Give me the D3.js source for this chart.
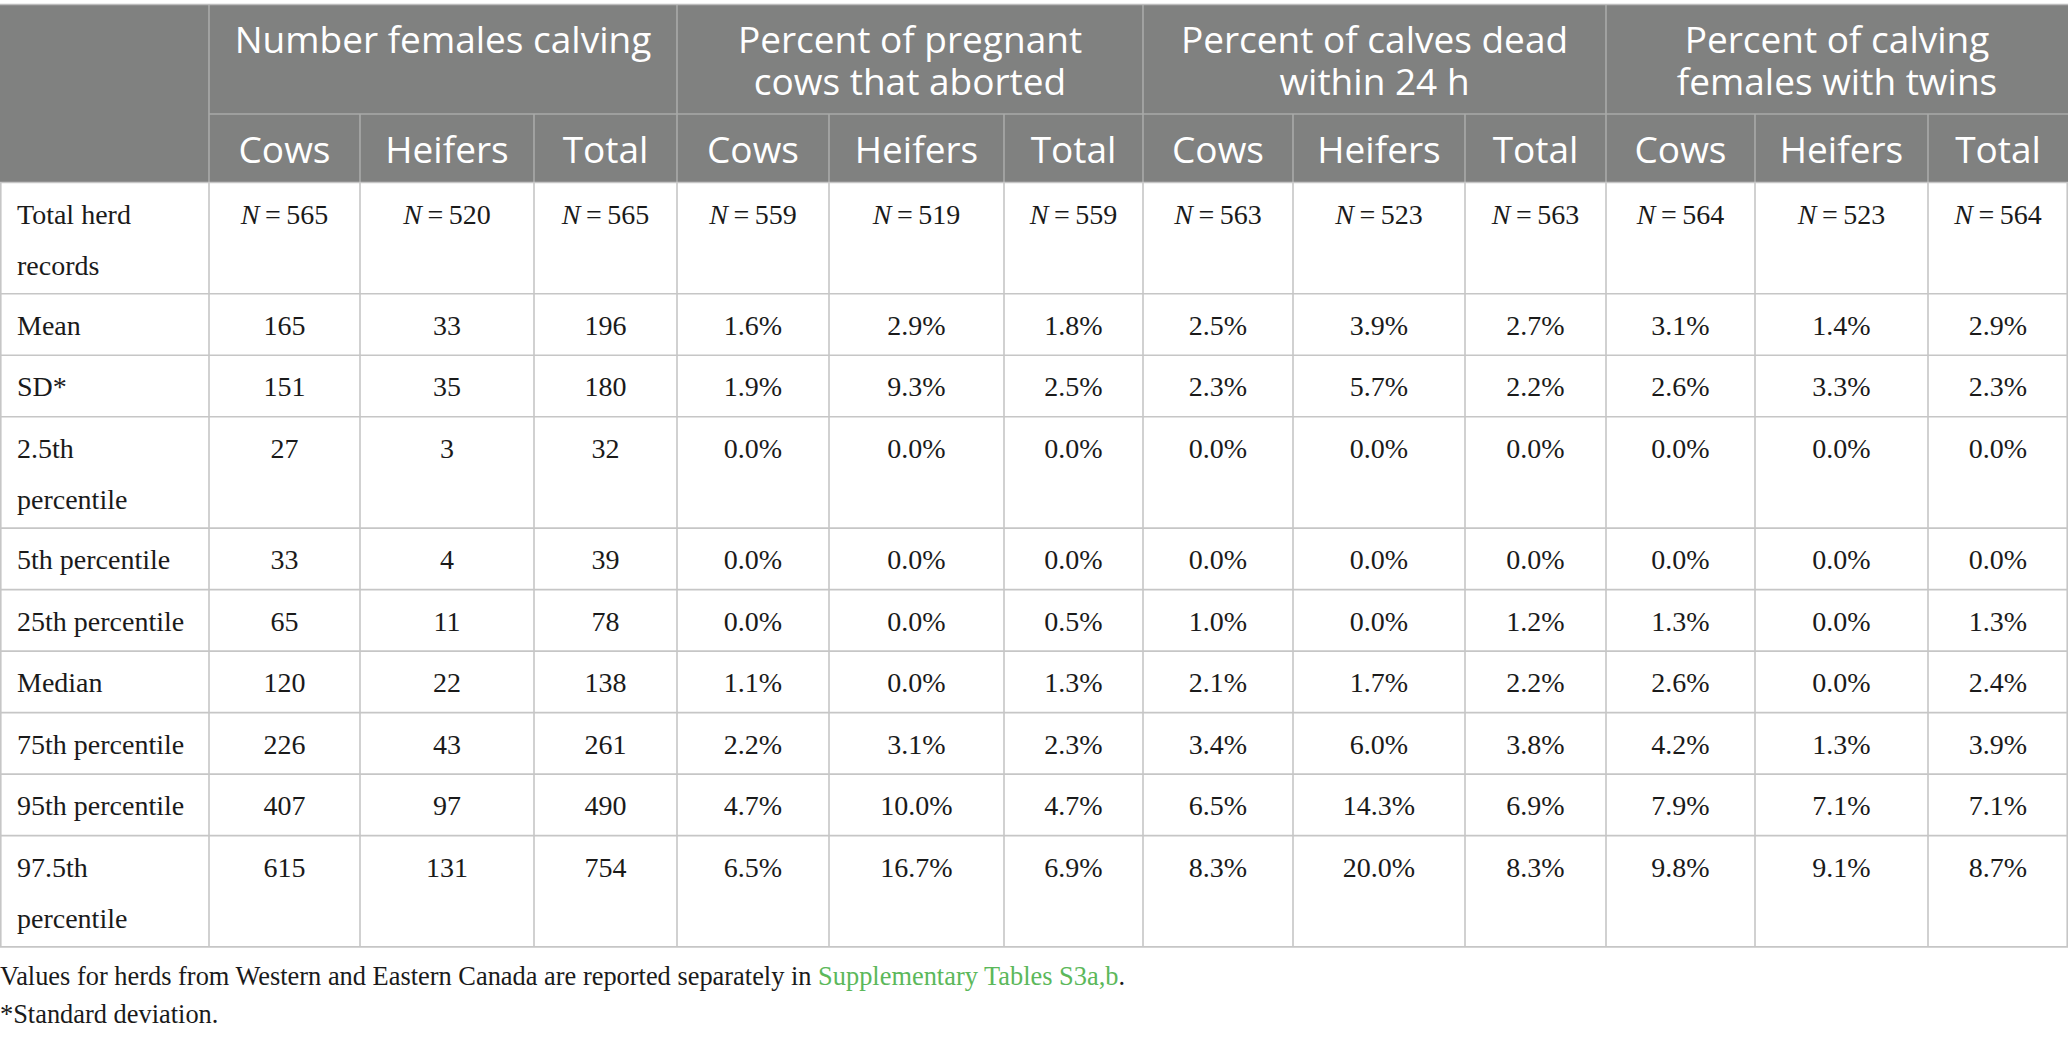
<!DOCTYPE html>
<html lang="en">

<head>
    <meta charset="utf-8">
    <script src='https://d3js.org/d3.v7.min.js'></script>
    <style>
        body { margin: 0; background: #fff; }
    </style>
</head>

<body>
</body>

<script>

    // header labels
    const groups = ["Number females calving", "Percent of pregnant\ncows that aborted",
                    "Percent of calves dead\nwithin 24 h", "Percent of calving\nfemales with twins"];
    const subHeaders = ["Cows", "Heifers", "Total"];

    const rowLabels = ["Total herd\nrecords", "Mean", "SD*", "2.5th\npercentile", "5th percentile",
                       "25th percentile", "Median", "75th percentile", "95th percentile", "97.5th\npercentile"];

    // N per column (first body row)
    const herdN = [565, 520, 565, 559, 519, 559, 563, 523, 563, 564, 523, 564];

    // rows Mean .. 97.5th percentile, columns Cows / Heifers / Total
    const numberCalving = [[165, 33, 196], [151, 35, 180], [27, 3, 32], [33, 4, 39], [65, 11, 78],
                           [120, 22, 138], [226, 43, 261], [407, 97, 490], [615, 131, 754]];
    const pctAborted = [[1.6, 2.9, 1.8], [1.9, 9.3, 2.5], [0, 0, 0], [0, 0, 0], [0, 0, 0.5],
                        [1.1, 0, 1.3], [2.2, 3.1, 2.3], [4.7, 10.0, 4.7], [6.5, 16.7, 6.9]];
    const pctDead = [[2.5, 3.9, 2.7], [2.3, 5.7, 2.2], [0, 0, 0], [0, 0, 0], [1.0, 0, 1.2],
                     [2.1, 1.7, 2.2], [3.4, 6.0, 3.8], [6.5, 14.3, 6.9], [8.3, 20.0, 8.3]];
    const pctTwins = [[3.1, 1.4, 2.9], [2.6, 3.3, 2.3], [0, 0, 0], [0, 0, 0], [1.3, 0, 1.3],
                      [2.6, 0, 2.4], [4.2, 1.3, 3.9], [7.9, 7.1, 7.1], [9.8, 9.1, 8.7]];

    const footnotes = ["Values for herds from Western and Eastern Canada are reported separately in ",
                       "Supplementary Tables S3a,b", ".", "*Standard deviation."];

    // layout
    const width = 2069;
    const height = 1039;
    const colWidths = [209, 151, 174, 143, 152, 175, 139, 150, 172, 141, 149, 173, 140];
    const tableTop = 4.5;
    const headH1 = 109.5;
    const headH2 = 68.5;
    const rowH1 = 61.5;
    const rowH2 = 111.3;
    const lineGap = 51;

    const headFont = "'Open Sans', 'Noto Sans', sans-serif";
    const bodyFont = "'Liberation Serif', 'DejaVu Serif', serif";
    const headBg = "#808180";
    const gridColor = "#c6c6c6";

    const edges = [0].concat(Array.from(d3.cumsum(colWidths)));
    var x = d3.scaleOrdinal()
                .domain(d3.range(colWidths.length))
                .range(edges.slice(0, -1));
    const colW = i => colWidths[i];
    const colMid = i => x(i) + colWidths[i] / 2;

    const rowHeights = rowLabels.map(d => d.includes("\n") ? rowH2 : rowH1);
    const bodyTop = tableTop + headH1 + headH2;
    const rowEdges = [bodyTop].concat(Array.from(d3.cumsum(rowHeights), d => bodyTop + d));
    var y = d3.scaleOrdinal()
                .domain(d3.range(rowLabels.length))
                .range(rowEdges.slice(0, -1));
    const tableBottom = rowEdges[rowEdges.length - 1];
    const tableRight = edges[edges.length - 1];

    // build cell table
    const fmtPct = d => d.toFixed(1) + "%";
    const series = [numberCalving, pctAborted, pctDead, pctTwins];
    const cells = [];
    herdN.forEach(function (n, c) {
        cells.push({ row: 0, col: c + 1, n: n });
    });
    series.forEach(function (s, g) {
        s.forEach(function (r, ri) {
            r.forEach(function (v, k) {
                cells.push({ row: ri + 1, col: g * 3 + k + 1, text: g === 0 ? String(v) : fmtPct(v) });
            });
        });
    });

    var svg = d3.select("body")
                .append("svg")
                .attr("width", width)
                .attr("height", height);

    // header background
    svg.append("rect")
        .attr("x", 0)
        .attr("y", tableTop)
        .attr("width", tableRight)
        .attr("height", headH1 + headH2)
        .attr("fill", headBg);

    // grid lines
    const grid = svg.append("g")
                    .attr("stroke-width", 1.6);

    // header internal lines
    grid.selectAll(".hv")
        .data(d3.range(1, colWidths.length))
        .enter()
        .append("line")
        .attr("x1", d => x(d))
        .attr("x2", d => x(d))
        .attr("y1", d => (d - 1) % 3 === 0 ? tableTop : tableTop + headH1)
        .attr("y2", bodyTop)
        .attr("stroke", "#a9aaa9");
    grid.append("line")
        .attr("x1", x(1)).attr("x2", tableRight)
        .attr("y1", tableTop + headH1).attr("y2", tableTop + headH1)
        .attr("stroke", "#a9aaa9");
    grid.append("line")
        .attr("x1", 0).attr("x2", tableRight)
        .attr("y1", tableTop).attr("y2", tableTop)
        .attr("stroke", "#bdbdbd");

    // body vertical lines
    grid.selectAll(".bv")
        .data(edges)
        .enter()
        .append("line")
        .attr("x1", d => Math.min(Math.max(d, 0.8), tableRight - 0.8))
        .attr("x2", d => Math.min(Math.max(d, 0.8), tableRight - 0.8))
        .attr("y1", bodyTop)
        .attr("y2", tableBottom)
        .attr("stroke", gridColor);

    // body horizontal lines
    grid.selectAll(".bh")
        .data(rowEdges)
        .enter()
        .append("line")
        .attr("x1", 0)
        .attr("x2", tableRight)
        .attr("y1", d => d)
        .attr("y2", d => d)
        .attr("stroke", gridColor);

    // group headers (one text per line)
    const groupLines = [];
    groups.forEach(function (g, i) {
        g.split("\n").forEach(function (t, k) {
            groupLines.push({ t: t, k: k, g: i });
        });
    });
    svg.selectAll(".group")
        .data(groupLines)
        .enter()
        .append("text")
        .attr("class", "group")
        .attr("x", d => x(d.g * 3 + 1) + (colW(d.g * 3 + 1) + colW(d.g * 3 + 2) + colW(d.g * 3 + 3)) / 2)
        .attr("y", d => tableTop + 48.5 + d.k * 41.5)
        .attr("text-anchor", "middle")
        .attr("fill", "#fff")
        .style("font-family", headFont)
        .style("font-size", "37px")
        .text(d => d.t);

    // sub headers
    svg.selectAll(".sub")
        .data(d3.range(1, colWidths.length))
        .enter()
        .append("text")
        .attr("x", d => colMid(d))
        .attr("y", tableTop + headH1 + 49)
        .attr("text-anchor", "middle")
        .attr("fill", "#fff")
        .style("font-family", headFont)
        .style("font-size", "37px")
        .text(d => subHeaders[(d - 1) % 3]);

    // row labels
    var rl = svg.selectAll(".rowlabel")
                .data(rowLabels)
                .enter()
                .append("text")
                .attr("x", 17)
                .attr("y", (d, i) => y(i) + 41)
                .attr("fill", "#1a1a1a")
                .style("font-family", bodyFont)
                .style("font-size", "28px");
    rl.selectAll("tspan")
        .data(d => d.split("\n").map((t, k) => ({ t: t, k: k })))
        .enter()
        .append("tspan")
        .attr("x", 17)
        .attr("dy", d => d.k === 0 ? 0 : lineGap)
        .text(d => d.t);

    // value cells
    var vc = svg.selectAll(".cell")
                .data(cells)
                .enter()
                .append("text")
                .attr("x", d => colMid(d.col))
                .attr("y", d => y(d.row) + 41)
                .attr("text-anchor", "middle")
                .attr("fill", "#1a1a1a")
                .style("font-family", bodyFont)
                .style("font-size", "28px");
    vc.filter(d => d.n === undefined).text(d => d.text);
    vc.filter(d => d.n !== undefined).each(function (d) {
        var t = d3.select(this);
        t.append("tspan").style("font-style", "italic").text("N");
        t.append("tspan").text("\u2009=\u2009" + d.n);
    });

    // footnotes
    var f1 = svg.append("text")
                .attr("x", 0)
                .attr("y", tableBottom + 38)
                .attr("fill", "#1a1a1a")
                .style("font-family", bodyFont)
                .style("font-size", "26.4px");
    f1.append("tspan").text(footnotes[0]);
    f1.append("tspan").attr("fill", "#5bb85a").text(footnotes[1]);
    f1.append("tspan").text(footnotes[2]);

    svg.append("text")
        .attr("x", 0)
        .attr("y", tableBottom + 76)
        .attr("fill", "#1a1a1a")
        .style("font-family", bodyFont)
        .style("font-size", "26.4px")
        .text(footnotes[3]);

</script>

</html>
